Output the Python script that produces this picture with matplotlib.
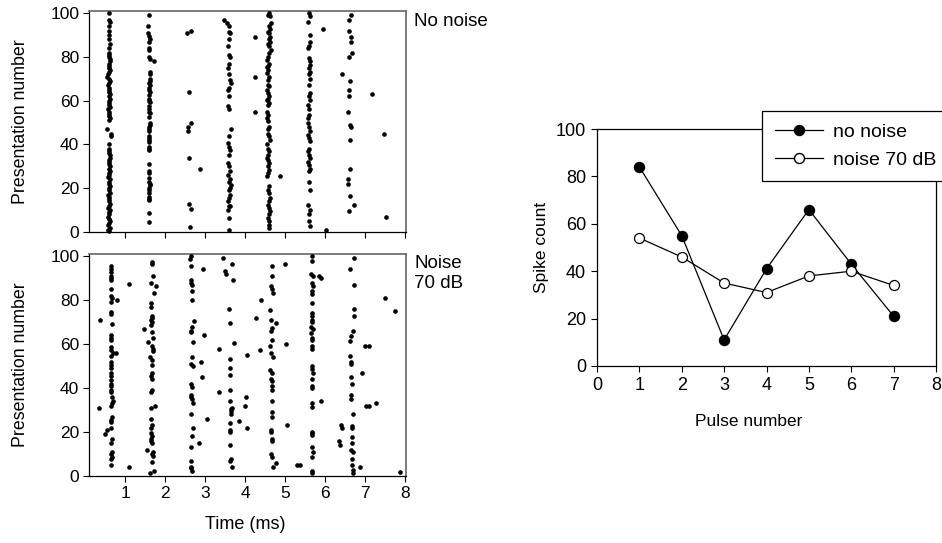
import matplotlib
matplotlib.use("Agg")
import matplotlib.pyplot as plt
from matplotlib.lines import Line2D

plt.rcParams['font.family'] = ['Liberation Sans', 'DejaVu Sans']

# ---------------- Raster data: no noise (time ms, presentation number) ----------------
nn_p1_trial = [0.5,1,2,3,4,5,6,7,8,9,10,11,12,13,14,15,16,17,18,19,20,21,22,23,24,25,26,27,28,29,30,
               31,32,33,34,35,36,37,38,40,44,45,47,51,52,53,54,55,56,57,58,59,60,61,62,63,64,65,66,
               67,68,69,70,71,72,73,74,75,76,77,78,79,80,81,82,84,86,88,90,92,94,96,97,100]
nn_p1_time = [0.6,0.58,0.62,0.57,0.6,0.63,0.59,0.57,0.61,0.6,0.62,0.58,0.6,0.63,0.59,0.61,0.6,0.58,0.62,0.6,
              0.61,0.63,0.59,0.6,0.62,0.58,0.61,0.6,0.63,0.6,0.62,0.59,0.61,0.6,0.63,0.62,0.6,0.61,0.59,0.6,
              0.64,0.65,0.55,0.6,0.62,0.59,0.61,0.6,0.58,0.62,0.6,0.59,0.61,0.63,0.6,0.62,0.59,0.6,0.61,0.58,
              0.6,0.62,0.6,0.55,0.58,0.6,0.62,0.61,0.59,0.6,0.63,0.62,0.6,0.61,0.59,0.6,0.62,0.6,0.61,0.59,
              0.6,0.62,0.6,0.6]
nn_p2_trial = [99,94,91,89.5,88,87,84,83,80,79,78,73,72,70,69,68,67,66,65,64,62.5,61,60,59.5,57.5,56,55,
               54.5,52.7,50,49,48,47,46,44,43,42,41,39,38,37.5,31,28,27,24.5,23,22,21.5,20,19,18,16,15,
               14.6,8.5,4.7]
nn_p2_time = [1.6,1.58,1.57,1.6,1.62,1.6,1.59,1.6,1.6,1.62,1.72,1.63,1.62,1.63,1.62,1.6,1.62,1.61,1.6,1.62,
              1.6,1.61,1.6,1.62,1.6,1.59,1.61,1.62,1.6,1.62,1.63,1.6,1.61,1.6,1.59,1.6,1.61,1.6,1.59,1.6,
              1.6,1.61,1.6,1.59,1.61,1.6,1.63,1.62,1.61,1.6,1.59,1.6,1.59,1.6,1.6,1.6]
nn_p3_trial = [91,92,64,48,46,50,34,29,13,10.5,2.5]
nn_p3_time = [2.54,2.64,2.6,2.57,2.58,2.65,2.6,2.88,2.6,2.65,2.63]
nn_p4_trial = [97,95.4,94,91.6,91,88,85,81,80,77,75,72,69.5,68,66,65,62,57.4,56,47,44,40.6,39,37.6,35,
               31.5,30,28,26,24,23,21.6,20,19,17,15.5,14,12,11.7,10,6.4,1]
nn_p4_time = [3.48,3.55,3.6,3.6,3.62,3.6,3.58,3.6,3.62,3.6,3.58,3.6,3.62,3.64,3.6,3.58,3.6,3.58,3.6,3.66,
              3.6,3.58,3.6,3.62,3.6,3.58,3.6,3.62,3.57,3.63,3.6,3.65,3.62,3.6,3.62,3.6,3.58,3.6,3.62,3.58,
              3.6,3.6]
nn_p5_trial = [100,99,98.5,95.4,94,93,91.6,91,89,88,87,86,85,83,81.7,80,78.7,77,76,75.6,74,72.6,71,69.5,
               67,66.5,65,63.5,62,61,60.4,59,58,55,53.6,52,50.5,48,47,45,43.7,42,40,38,36.8,35,34,33,
               31.5,30,28.5,27,25.4,21,19.3,17.8,15.5,14,12.5,11,9.4,8,6.4,4.9,3.3,1.8]
nn_p5_time = [4.6,4.58,4.62,4.64,4.6,4.62,4.58,4.6,4.63,4.6,4.62,4.58,4.6,4.65,4.6,4.57,4.55,4.6,4.58,4.55,
              4.58,4.55,4.6,4.57,4.58,4.6,4.55,4.57,4.6,4.58,4.55,4.6,4.58,4.55,4.57,4.55,4.58,4.6,4.58,4.57,
              4.6,4.62,4.55,4.58,4.6,4.57,4.55,4.58,4.6,4.57,4.6,4.58,4.55,4.6,4.58,4.6,4.62,4.6,4.58,4.6,
              4.62,4.6,4.58,4.6,4.6,4.6]
nn_p6_trial = [100,98.5,96,90,87,85,84,79.5,78,76.4,75,73,72,70,67,63.5,62,60.4,58,56,53.6,52,50,48,46,
               44.4,43,41.4,38,36.8,35,33.8,32,30.7,29,27.7,23,19.3,12.5,10,8,5,2.6]
nn_p6_time = [5.6,5.62,5.58,5.62,5.63,5.6,5.58,5.6,5.62,5.61,5.6,5.62,5.6,5.62,5.6,5.62,5.6,5.62,5.58,5.6,
              5.6,5.58,5.57,5.6,5.62,5.58,5.6,5.63,5.6,5.58,5.6,5.62,5.58,5.6,5.62,5.6,5.6,5.62,5.57,5.62,
              5.6,5.6,5.63]
nn_p7_trial = [99,97,92,89,87,82,80,72,69,65,62,55,49,48,42,29,24,22,16.6,12.5,9.5]
nn_p7_time = [6.65,6.6,6.6,6.65,6.64,6.68,6.6,6.42,6.63,6.6,6.6,6.58,6.62,6.64,6.62,6.63,6.58,6.58,6.63,6.73,6.6]
nn_stray_trial = [89,71,55,25.4,93,0.8,63,45,7]
nn_stray_time = [4.25,4.25,4.25,4.88,5.95,6.02,7.18,7.48,7.53]

# ---------------- Raster data: noise 70 dB ----------------
nz_p1_trial = [95.6,94.4,93,91,90,89,85,82,81,79,74.6,73.5,69,64,63,62,58.8,57.5,56,54.8,52,50.7,49,47,
               45.7,43.5,42,40.8,39,38,36,34,33,32,27,25.6,24.4,21.8,17,15,11,10,8.8,7.6,5,
               71,31,19,21,80,56,87.5,4]
nz_p1_time = [0.66,0.65,0.66,0.64,0.65,0.66,0.65,0.66,0.67,0.66,0.64,0.65,0.67,0.64,0.65,0.66,0.65,0.66,0.7,
              0.65,0.66,0.65,0.66,0.64,0.65,0.66,0.65,0.66,0.64,0.66,0.67,0.7,0.68,0.66,0.67,0.66,0.65,
              0.64,0.67,0.66,0.67,0.66,0.67,0.66,0.65,
              0.37,0.35,0.5,0.54,0.8,0.78,1.1,1.1]
nz_p2_trial = [97.4,96.3,91,88,86.5,83.4,78.5,77,73,72,71,70,68.5,67,65.5,63,61,59,58,57,54,53,50.7,47,
               45.4,44,39,38,31,32,23,21.8,19.5,18,17,15.7,15,12,10,9,6.5,2.4,1.5,11,26]
nz_p2_time = [1.68,1.68,1.69,1.66,1.78,1.72,1.65,1.66,1.67,1.68,1.66,1.68,1.66,1.47,1.67,1.69,1.57,1.68,1.69,
              1.7,1.63,1.68,1.67,1.68,1.66,1.67,1.67,1.66,1.64,1.76,1.67,1.66,1.66,1.67,1.66,1.66,1.68,
              1.55,1.67,1.7,1.68,1.73,1.63,1.7,1.65]
nz_p3_trial = [100,98.6,95.6,89,88,87,84,80,70.5,68,66,65.5,61,54,51,50,45,42,40.5,37,36,35,33,28,22,18,
               13,7,4.3,3.5,2.4,94.4,64,52,26,15]
nz_p3_time = [2.64,2.63,2.64,2.66,2.64,2.68,2.68,2.68,2.72,2.68,2.65,2.66,2.7,2.68,2.66,2.69,2.93,2.66,2.68,
              2.64,2.66,2.68,2.7,2.66,2.7,2.67,2.66,2.64,2.65,2.66,2.67,2.95,2.98,2.9,3.05,2.85]
nz_p4_trial = [99.4,96.3,93.3,92,89,76,69.4,60.3,58,53.3,49,46,39,38,34,30.4,29.4,28,24,21,20,14,7.6,7,25,
               31,4,55,36,32,22,80,72,57.5]
nz_p4_time = [3.45,3.67,3.49,3.52,3.7,3.61,3.63,3.72,3.35,3.63,3.63,3.63,3.62,3.35,3.63,3.65,3.66,3.64,3.63,
              3.62,3.63,3.63,3.65,3.63,3.85,3.68,3.68,4.05,4.03,4.0,4.05,4.4,4.28,4.37]
nz_p5_trial = [95.6,91,86.5,85,83.4,75.3,71,67.4,66,62,59,56,54,48.4,47,44,43,41,39,34,29,27,21,20,16.7,
               15.7,10,8.8,4,69.4,96.3,60,23,6,5]
nz_p5_time = [4.68,4.66,4.64,4.68,4.7,4.63,4.64,4.66,4.65,4.66,4.63,4.64,4.7,4.63,4.68,4.65,4.67,4.68,4.67,
              4.68,4.68,4.68,4.65,4.64,4.66,4.66,4.65,4.67,4.7,4.78,5.0,5.03,5.05,4.78,5.3]
nz_p6_trial = [100,98,92,91,87.7,86.5,84,82.6,78.5,74,73,71,70,68,67,65,63,62,59,58,50,48.7,47,44,41,40,
               33,31.4,20,19.5,18.7,13,11,8.8,2.4,1.2,34,90,91,5]
nz_p6_time = [5.68,5.68,5.65,5.7,5.68,5.7,5.66,5.68,5.68,5.68,5.66,5.68,5.67,5.64,5.7,5.64,5.66,5.68,5.68,
              5.67,5.67,5.68,5.7,5.68,5.66,5.67,5.67,5.68,5.68,5.68,5.67,5.66,5.7,5.68,5.68,5.68,
              5.9,5.9,5.85,5.38]
nz_p7_trial = [99.4,94.4,87,76,72.8,66,63.6,61.3,54.8,52,51,45,42,37,35,28,22.8,21.8,17.7,15.2,12,11,7.6,
               5,2.7,1.5,16,14,23.3,22,4,47,59,59,32,32,33,81,75,2]
nz_p7_time = [6.73,6.63,6.73,6.72,6.72,6.7,6.65,6.63,6.63,6.65,6.64,6.65,6.67,6.65,6.65,6.7,6.67,6.67,6.68,
              6.67,6.65,6.7,6.68,6.68,6.7,6.7,6.35,6.37,6.4,6.43,6.88,6.93,7.0,7.1,7.02,7.1,7.28,7.5,
              7.75,7.88]

# ---------------- Spike count data ----------------
pulse_number = [1, 2, 3, 4, 5, 6, 7]
count_no_noise = [84, 55, 11, 41, 66, 43, 21]
count_noise = [54, 46, 35, 31, 38, 40, 34]

W, H = 942, 543
fig = plt.figure(figsize=(W / 100, H / 100), dpi=100)

def ax_px(l, t, r, b):
    return fig.add_axes([l / W, 1 - b / H, (r - l) / W, (b - t) / H])

def style_raster(ax):
    ax.set_xlim(0.1, 8.02)
    ax.set_ylim(0, 101)
    ax.set_xticks(range(1, 9))
    ax.set_yticks(range(0, 101, 20))
    ax.tick_params(direction='out', length=4, width=0.8, labelsize=12.5, pad=3)
    for s in ['left', 'bottom']:
        ax.spines[s].set_linewidth(0.9)
    for s in ['top', 'right']:
        ax.spines[s].set_color('#666666')
        ax.spines[s].set_linewidth(1.2)
    ax.set_ylabel('Presentation number', fontsize=12.8)
    ax.yaxis.set_label_coords((29 - 89) / 317, 0.5)

ax1 = ax_px(89, 11, 406, 232)
nn_t = (nn_p1_time + nn_p2_time + nn_p3_time + nn_p4_time + nn_p5_time + nn_p6_time
        + nn_p7_time + nn_stray_time)
nn_y = (nn_p1_trial + nn_p2_trial + nn_p3_trial + nn_p4_trial + nn_p5_trial + nn_p6_trial
        + nn_p7_trial + nn_stray_trial)
ax1.scatter(nn_t, nn_y, s=11, c='black', linewidths=0, zorder=3, clip_on=False)
style_raster(ax1)
ax1.set_xticklabels([])

ax2 = ax_px(89, 254, 406, 476)
nz_t = nz_p1_time + nz_p2_time + nz_p3_time + nz_p4_time + nz_p5_time + nz_p6_time + nz_p7_time
nz_y = nz_p1_trial + nz_p2_trial + nz_p3_trial + nz_p4_trial + nz_p5_trial + nz_p6_trial + nz_p7_trial
ax2.scatter(nz_t, nz_y, s=11, c='black', linewidths=0, zorder=3, clip_on=False)
style_raster(ax2)
ax2.set_xlabel('Time (ms)', fontsize=13)
ax2.xaxis.set_label_coords((245 - 89) / 317, (476 - 516) / 222)

fig.text(414 / W, 1 - 21 / H, 'No noise', fontsize=13.5, va='center', ha='left')
fig.text(414 / W, 1 - 263 / H, 'Noise', fontsize=13.5, va='center', ha='left')
fig.text(414 / W, 1 - 284 / H, '70 dB', fontsize=13.5, va='center', ha='left')

ax3 = ax_px(597, 129, 936, 366)
ax3.plot(pulse_number, count_no_noise, '-o', color='black', lw=0.9, ms=7.2,
         mfc='black', mec='black', zorder=3, clip_on=False)
ax3.plot(pulse_number, count_noise, '-o', color='black', lw=0.9, ms=7.2,
         mfc='white', mec='black', mew=0.9, zorder=3, clip_on=False)
ax3.set_xlim(0, 8)
ax3.set_ylim(0, 100)
ax3.set_xticks(range(0, 9))
ax3.set_yticks(range(0, 101, 20))
ax3.tick_params(direction='out', length=4, width=0.8, labelsize=13, pad=4)
for s in ax3.spines.values():
    s.set_linewidth(0.9)
ax3.set_xlabel('Pulse number', fontsize=12.5)
ax3.xaxis.set_label_coords((749 - 597) / 339, (366 - 414) / 237)
ax3.set_ylabel('Spike count', fontsize=12.5)
ax3.yaxis.set_label_coords((549 - 597) / 339, 0.5)

handles = [Line2D([], [], color='black', lw=0.9, marker='o', ms=7.2, mfc='black', mec='black'),
           Line2D([], [], color='black', lw=0.9, marker='o', ms=7.2, mfc='white', mec='black')]
leg = fig.legend(handles, ['no noise', 'noise 70 dB'], loc='upper left',
                 bbox_to_anchor=(762 / W, 1 - 111 / H), fontsize=14, frameon=True,
                 fancybox=False, edgecolor='black', framealpha=1, handlelength=2.5,
                 handletextpad=0.5, borderpad=0.65, labelspacing=0.5, borderaxespad=0)
leg.get_frame().set_linewidth(0.9)

fig.savefig('out.png', dpi=100)
